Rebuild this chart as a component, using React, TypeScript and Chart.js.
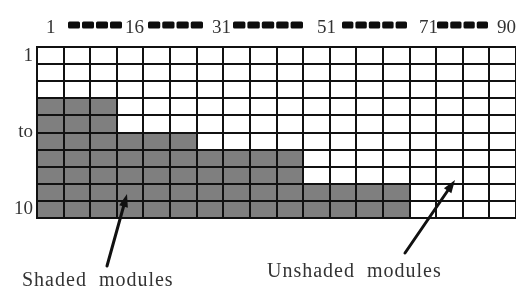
import React, { useEffect, useRef } from "react";
import { Chart, registerables } from "chart.js";

Chart.register(...registerables);

// ---- data ----
const columns = ["1","2","3","4","5","6","7","8","9","10","11","12","13","14","15","16","17","18"];
const shadedModules = [7, 7, 7, 5, 5, 5, 4, 4, 4, 4, 2, 2, 2, 2, 0, 0, 0, 0];
const unshadedModules = [3, 3, 3, 5, 5, 5, 6, 6, 6, 6, 8, 8, 8, 8, 10, 10, 10, 10];
const topLabels = ["1", "16", "31", "51", "71", "90"];
const rowLabels = ["1", "to", "10"];
const rowLabelValues = [9.5, 5, 0.5];
const annotationTexts = ["Shaded  modules", "Unshaded  modules"];

const SERIF = "'Liberation Serif', 'DejaVu Serif', serif";

const decorPlugin = {
  id: "decor",
  afterDraw(chart: any) {
    const ctx = chart.ctx as CanvasRenderingContext2D;
    ctx.save();
    // top labels
    ctx.fillStyle = "#333";
    ctx.font = `19px ${SERIF}`;
    ctx.textBaseline = "alphabetic";
    ctx.textAlign = "left";
    const labelX = [46, 125, 212, 317, 419, 497];
    topLabels.forEach((t, i) => ctx.fillText(t, labelX[i], 33));
    // dash runs
    const runs = [[68, 122], [148, 203], [233, 303], [342, 407], [437, 488]];
    ctx.fillStyle = "#0d0d0d";
    runs.forEach(([s, e]) => {
      const n = Math.max(1, Math.round((e - s + 2) / 13.5));
      const pitch = (e - s + 2) / n;
      for (let k = 0; k < n; k++) {
        const x = s + k * pitch;
        const w = pitch - 2;
        ctx.beginPath();
        (ctx as any).roundRect ? (ctx as any).roundRect(x, 21.5, w, 7, 1.5) : ctx.rect(x, 21.5, w, 7);
        ctx.fill();
      }
    });
    // arrows
    const arrow = (x1: number, y1: number, x2: number, y2: number) => {
      const ang = Math.atan2(y2 - y1, x2 - x1);
      const hl = 13, hw = 4.5;
      const bx = x2 - hl * Math.cos(ang), by = y2 - hl * Math.sin(ang);
      ctx.strokeStyle = "#111";
      ctx.lineWidth = 3;
      ctx.lineCap = "round";
      ctx.beginPath();
      ctx.moveTo(x1, y1);
      ctx.lineTo(bx, by);
      ctx.stroke();
      ctx.fillStyle = "#111";
      ctx.beginPath();
      ctx.moveTo(x2, y2);
      ctx.lineTo(bx + hw * Math.sin(ang), by - hw * Math.cos(ang));
      ctx.lineTo(bx - hw * Math.sin(ang), by + hw * Math.cos(ang));
      ctx.closePath();
      ctx.fill();
    };
    arrow(107, 266, 127, 194);
    arrow(405, 253, 455, 180);
    // annotation text
    ctx.fillStyle = "#333";
    ctx.font = `20px ${SERIF}`;
    (ctx as any).letterSpacing = "1px";
    ctx.fillText(annotationTexts[0], 22, 286);
    ctx.fillText(annotationTexts[1], 267, 277);
    (ctx as any).letterSpacing = "0px";
    ctx.restore();
  },
};

export default function App() {
  const ref = useRef<HTMLCanvasElement | null>(null);
  useEffect(() => {
    document.body.style.margin = "0";
    const canvas = ref.current!;
    const chart = new Chart(canvas, {
      type: "bar",
      data: {
        labels: columns,
        datasets: [
          {
            label: "Shaded modules",
            data: shadedModules,
            backgroundColor: "#7f7f7f",
            borderWidth: 0,
            barPercentage: 1,
            categoryPercentage: 1,
          },
          {
            label: "Unshaded modules",
            data: unshadedModules,
            backgroundColor: "#ffffff",
            borderWidth: 0,
            barPercentage: 1,
            categoryPercentage: 1,
          },
        ],
      },
      options: {
        responsive: false,
        animation: false,
        layout: { padding: { top: 47, bottom: 70, left: 0, right: 0 } },
        plugins: { legend: { display: false }, tooltip: { enabled: false } },
        scales: {
          x: {
            type: "category",
            stacked: true,
            position: "bottom",
            grid: { offset: true, color: "#111", lineWidth: 2, drawTicks: false, z: 1 },
            border: { display: true, color: "#111", width: 2, z: 1 },
            ticks: { display: false },
            afterFit: (s: any) => { s.height = 0; },
          },
          y: {
            type: "linear",
            stacked: true,
            min: 0,
            max: 10,
            position: "left",
            ticks: { display: false, stepSize: 1 },
            grid: { color: "#111", lineWidth: 2, drawTicks: false, z: 1 },
            border: { display: true, color: "#111", width: 2, z: 1 },
            afterFit: (s: any) => { s.width = 0; },
          },
          yl: {
            type: "linear",
            min: 0,
            max: 10,
            position: "left",
            grid: { display: false, drawTicks: false },
            border: { display: false },
            afterBuildTicks: (s: any) => { s.ticks = rowLabelValues.map((v) => ({ value: v })); },
            ticks: {
              padding: 4,
              color: "#333",
              font: { family: SERIF, size: 19 },
              autoSkip: false,
              callback: (_v: any, i: number) => rowLabels[i],
            },
            afterFit: (s: any) => { s.width = 37; },
          },
        },
      } as any,
      plugins: [decorPlugin],
    });
    return () => chart.destroy();
  }, []);
  return (
    <div style={{ width: 516, height: 288 }}>
      <canvas ref={ref} width={516} height={288} />
    </div>
  );
}
